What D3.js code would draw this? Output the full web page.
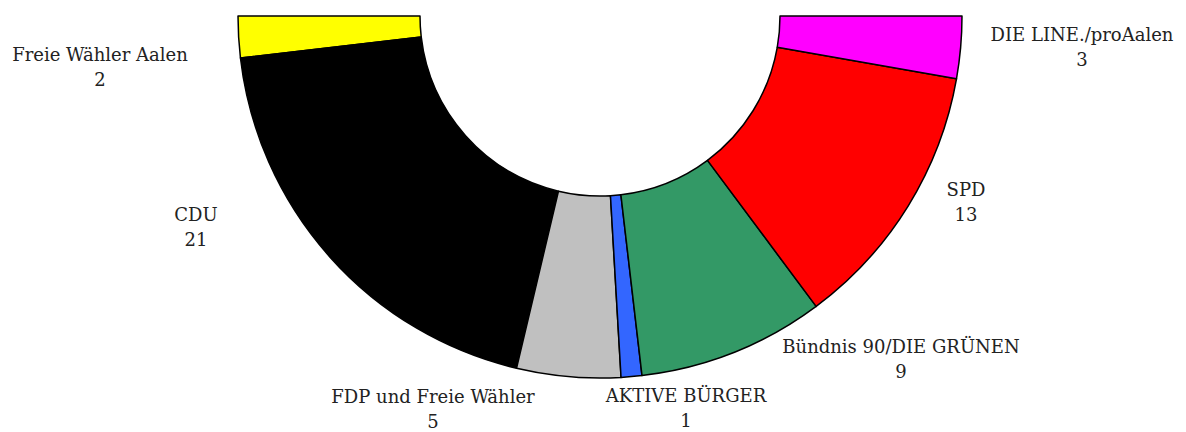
<!DOCTYPE html>
<html>
<head>
<meta charset="utf-8">
<script src="https://cdn.jsdelivr.net/npm/d3@7"></script>
<style>
  body { margin: 0; background: #fff; }
  text { font-family: "DejaVu Serif", serif; font-size: 18px; fill: #222; }
</style>
</head>
<body>
<div id="chart"></div>
<script>
// seat distribution, left to right around the half ring
var parties = ["Freie Wähler Aalen", "CDU", "FDP und Freie Wähler", "AKTIVE BÜRGER", "Bündnis 90/DIE GRÜNEN", "SPD", "DIE LINE./proAalen"];
var seats = [2, 21, 5, 1, 9, 13, 3];
var colors = ["#ffff00", "#000000", "#c0c0c0", "#3366ff", "#339966", "#ff0000", "#ff00ff"];

// where each label sits (layout only)
var labelPos = [[100, 55], [196, 215], [433, 397], [686, 396], [901, 347], [966, 190], [1082, 35]];

var w = 1186, h = 432;
var cx = 600, cy = 16; // centre of the ring
var outerR = 362, innerR = 180;

var svg = d3.select("#chart").append("svg")
    .attr("width", w)
    .attr("height", h);

var data = parties.map(function(p, i) { return { party: p, seats: seats[i], color: colors[i] }; });

// angles go from the left, round the bottom, to the right
var pie = d3.pie()
    .value(function(d) { return d.seats; })
    .sort(null)
    .startAngle(-Math.PI / 2)
    .endAngle(-3 * Math.PI / 2);

var arc = d3.arc()
    .innerRadius(innerR)
    .outerRadius(outerR);

svg.append("g")
    .attr("transform", "translate(" + cx + "," + cy + ")")
    .selectAll("path")
    .data(pie(data))
    .enter()
    .append("path")
    .attr("d", arc)
    .attr("fill", function(d) { return d.data.color; })
    .attr("stroke", "#000")
    .attr("stroke-width", 1.5)
    .attr("stroke-linejoin", "round");

var labels = svg.append("g").selectAll("text")
    .data(data)
    .enter()
    .append("text")
    .attr("text-anchor", "middle")
    .attr("transform", function(d, i) { return "translate(" + labelPos[i][0] + "," + labelPos[i][1] + ")"; });

labels.append("tspan")
    .attr("x", 0)
    .attr("y", 6)
    .text(function(d) { return d.party; });

labels.append("tspan")
    .attr("x", 0)
    .attr("y", 31)
    .text(function(d) { return d.seats; });
</script>
</body>
</html>
